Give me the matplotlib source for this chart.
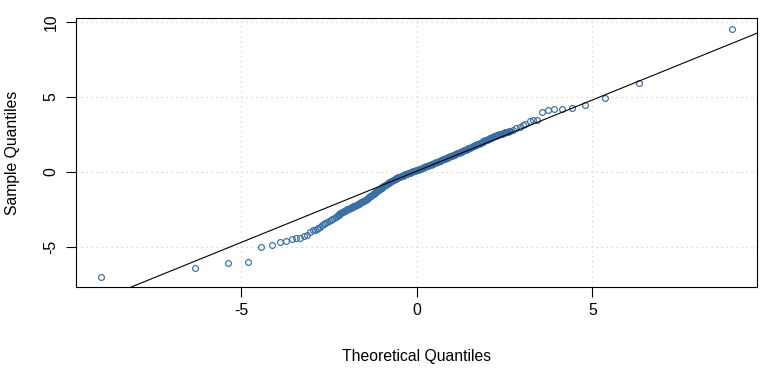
import matplotlib
import matplotlib.pyplot as plt

matplotlib.rcParams["font.family"] = ["Liberation Sans", "DejaVu Sans"]
plt.switch_backend("agg")

# sparse lower tail (theoretical, sample)
tail_lo_x = [-9.00, -6.32, -5.36, -4.81, -4.42, -4.13, -3.90, -3.71, -3.56,
             -3.43, -3.31, -3.20, -3.11, -3.03, -2.95]
tail_lo_y = [-7.00, -6.40, -6.07, -6.00, -5.00, -4.85, -4.69, -4.62, -4.47,
             -4.40, -4.40, -4.27, -4.18, -3.98, -3.90]

# dense central band
band_x = [-2.90, -2.85, -2.80, -2.75, -2.70, -2.65, -2.60, -2.55, -2.50, -2.45,
          -2.40, -2.35, -2.30, -2.25, -2.20, -2.15, -2.10, -2.05, -2.00, -1.95,
          -1.90, -1.85, -1.80, -1.75, -1.70, -1.65, -1.60, -1.55, -1.50, -1.45,
          -1.40, -1.35, -1.30, -1.25, -1.20, -1.15, -1.10, -1.05, -1.00, -0.95,
          -0.90, -0.85, -0.80, -0.75, -0.70, -0.65, -0.60, -0.55, -0.50, -0.45,
          -0.40, -0.35, -0.30, -0.25, -0.20, -0.15, -0.10, -0.05, 0.00, 0.05,
          0.10, 0.15, 0.20, 0.25, 0.30, 0.35, 0.40, 0.45, 0.50, 0.55,
          0.60, 0.65, 0.70, 0.75, 0.80, 0.85, 0.90, 0.95, 1.00, 1.05,
          1.10, 1.15, 1.20, 1.25, 1.30, 1.35, 1.40, 1.45, 1.50, 1.55,
          1.60, 1.65, 1.70, 1.75, 1.80, 1.85, 1.90, 1.95, 2.00, 2.05,
          2.10, 2.15, 2.20, 2.25, 2.30, 2.35, 2.40, 2.45, 2.50, 2.55,
          2.60, 2.65]
band_y = [-3.87, -3.80, -3.72, -3.64, -3.55, -3.47, -3.40, -3.34, -3.28, -3.22,
          -3.15, -3.08, -3.00, -2.90, -2.80, -2.72, -2.65, -2.59, -2.53, -2.47,
          -2.42, -2.36, -2.30, -2.24, -2.18, -2.12, -2.06, -1.99, -1.92, -1.84,
          -1.76, -1.67, -1.58, -1.49, -1.40, -1.31, -1.22, -1.13, -1.05, -0.96,
          -0.88, -0.80, -0.72, -0.65, -0.58, -0.51, -0.45, -0.39, -0.34, -0.29,
          -0.24, -0.19, -0.14, -0.09, -0.05, 0.00, 0.04, 0.08, 0.12, 0.16,
          0.21, 0.25, 0.30, 0.35, 0.39, 0.44, 0.49, 0.54, 0.59, 0.64,
          0.69, 0.74, 0.79, 0.84, 0.89, 0.94, 0.99, 1.04, 1.09, 1.14,
          1.19, 1.24, 1.29, 1.34, 1.39, 1.45, 1.50, 1.55, 1.60, 1.66,
          1.71, 1.77, 1.82, 1.88, 1.93, 1.99, 2.05, 2.11, 2.16, 2.22,
          2.27, 2.33, 2.38, 2.43, 2.47, 2.51, 2.55, 2.58, 2.62, 2.66,
          2.70, 2.74]

# extra points filling the densest stretch of the band
band2_x = [-2.275, -2.225, -2.175, -2.125, -2.075, -2.025, -1.975, -1.925,
           -1.875, -1.825, -1.775, -1.725, -1.675, -1.625, -1.575, -1.525,
           -1.475, -1.425, -1.375, -1.325, -1.275, -1.225, -1.175, -1.125,
           -1.075, -1.025, -0.975, -0.925, -0.875, -0.825, -0.775, -0.725,
           -0.675, -0.625, -0.575, -0.525, -0.475, -0.425, -0.375, -0.325,
           -0.275, -0.225, -0.175, -0.125, -0.075, -0.025, 0.025, 0.075,
           0.125, 0.175, 0.225, 0.275, 0.325, 0.375, 0.425, 0.475,
           0.525, 0.575, 0.625, 0.675, 0.725, 0.775, 0.825, 0.875,
           0.925, 0.975, 1.025, 1.075, 1.125, 1.175, 1.225, 1.275,
           1.325, 1.375, 1.425, 1.475, 1.525, 1.575, 1.625, 1.675,
           1.725, 1.775, 1.825, 1.875, 1.925, 1.975, 2.025, 2.075,
           2.125, 2.175, 2.225, 2.275, 2.325, 2.375, 2.425, 2.475,
           2.525, 2.575, 2.625]
band2_y = [-2.95, -2.85, -2.76, -2.68, -2.62, -2.56, -2.50, -2.45,
           -2.39, -2.33, -2.27, -2.21, -2.15, -2.09, -2.02, -1.95,
           -1.88, -1.80, -1.72, -1.62, -1.53, -1.44, -1.35, -1.26,
           -1.17, -1.09, -1.00, -0.92, -0.84, -0.76, -0.68, -0.61,
           -0.54, -0.48, -0.42, -0.36, -0.31, -0.26, -0.21, -0.16,
           -0.11, -0.07, -0.02, 0.02, 0.06, 0.10, 0.14, 0.18,
           0.23, 0.27, 0.32, 0.37, 0.41, 0.46, 0.51, 0.56,
           0.61, 0.66, 0.71, 0.76, 0.81, 0.86, 0.91, 0.96,
           1.01, 1.06, 1.11, 1.16, 1.21, 1.26, 1.31, 1.36,
           1.42, 1.47, 1.52, 1.57, 1.63, 1.68, 1.74, 1.79,
           1.85, 1.90, 1.96, 2.02, 2.08, 2.13, 2.19, 2.24,
           2.30, 2.35, 2.40, 2.45, 2.49, 2.53, 2.56, 2.60,
           2.64, 2.68, 2.72]

# sparse upper tail
tail_hi_x = [2.74, 2.84, 2.93, 3.03, 3.09, 3.22, 3.31, 3.43, 3.56, 3.73,
             3.90, 4.13, 4.42, 4.80, 5.35, 6.32, 8.98]
tail_hi_y = [2.80, 2.91, 3.00, 3.13, 3.22, 3.38, 3.44, 3.49, 4.02, 4.13,
             4.20, 4.22, 4.27, 4.49, 4.93, 5.95, 9.56]

# reference line
LINE_INTERCEPT = 0.05
LINE_SLOPE = 0.95

X_TICKS = [-5, 0, 5]
Y_TICKS = [-5, 0, 5, 10]

POINT_COLOR = "#3a6ea5"
FONT_SIZE = 11.3


def main():
    fig = plt.figure(figsize=(7.7, 3.71), dpi=100)
    ax = fig.add_axes([76 / 770, 84 / 371, 681 / 770, 269 / 371])

    ax.set_xlim(-9.7, 9.69)
    ax.set_ylim(-7.67, 10.27)

    for v in X_TICKS:
        ax.axvline(v, color="#d3d3d3", linestyle=(0, (1, 3)), linewidth=0.9, zorder=0)
    for v in Y_TICKS:
        ax.axhline(v, color="#d3d3d3", linestyle=(0, (1, 3)), linewidth=0.9, zorder=0)

    xs = tail_lo_x + band_x + band2_x + tail_hi_x
    ys = tail_lo_y + band_y + band2_y + tail_hi_y
    ax.plot(xs, ys, linestyle="none", marker="o", markersize=4.2,
            markerfacecolor="none", markeredgecolor=POINT_COLOR,
            markeredgewidth=0.85, zorder=2)

    ax.axline((0, LINE_INTERCEPT), slope=LINE_SLOPE, color="black",
              linewidth=0.8, zorder=3)

    ax.set_xticks(X_TICKS)
    ax.set_xticklabels([str(v) for v in X_TICKS])
    ax.set_yticks(Y_TICKS)
    ax.set_yticklabels([str(v) for v in Y_TICKS], rotation=90, va="center")
    ax.tick_params(axis="both", direction="out", length=7, width=0.8,
                   labelsize=FONT_SIZE)
    ax.tick_params(axis="x", pad=4.5)
    ax.tick_params(axis="y", pad=5.5)

    for sp in ax.spines.values():
        sp.set_linewidth(0.8)
        sp.set_color("black")

    ax.set_xlabel("Theoretical Quantiles", fontsize=FONT_SIZE)
    ax.xaxis.set_label_coords(0.5, -0.26)
    ax.xaxis.label.set_va("center")
    ax.set_ylabel("Sample Quantiles", fontsize=FONT_SIZE)
    ax.yaxis.set_label_coords(-0.093, 0.5)
    ax.yaxis.label.set_va("center")

    fig.savefig("out.png", dpi=100, facecolor="white")
    plt.close(fig)


if __name__ == "__main__":
    main()
